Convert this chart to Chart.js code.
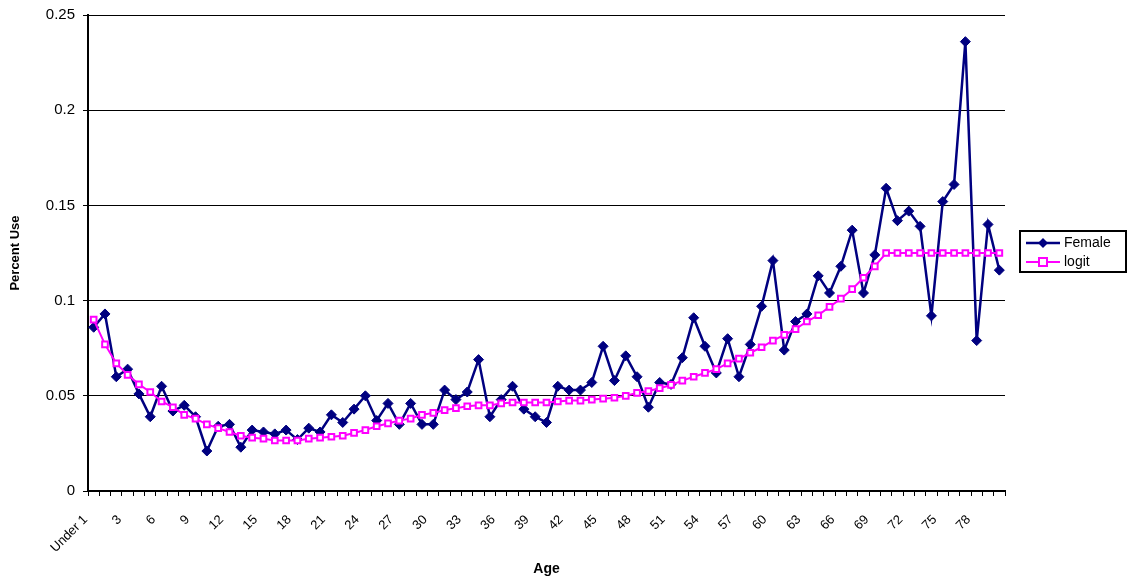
<!DOCTYPE html>
<html>
<head>
<meta charset="utf-8">
<script src="https://cdn.jsdelivr.net/npm/chart.js@4.4.0/dist/chart.umd.min.js"></script>
<style>
  body { margin: 0; background: #fff; }
  canvas { display: block; }
</style>
</head>
<body>
<canvas id="myChart" width="1128" height="584"></canvas>
<script>
// ages: Under 1, 1 .. 80
var ages = ["Under 1"];
for (var a = 1; a <= 80; a++) ages.push(String(a));

var female = [
  0.086, 0.093, 0.060, 0.064, 0.051, 0.039, 0.055, 0.042, 0.045, 0.039,
  0.021, 0.034, 0.035, 0.023, 0.032, 0.031, 0.030, 0.032, 0.027, 0.033,
  0.031, 0.040, 0.036, 0.043, 0.050, 0.037, 0.046, 0.035, 0.046, 0.035,
  0.035, 0.053, 0.048, 0.052, 0.069, 0.039, 0.048, 0.055, 0.043, 0.039,
  0.036, 0.055, 0.053, 0.053, 0.057, 0.076, 0.058, 0.071, 0.060, 0.044,
  0.057, 0.056, 0.070, 0.091, 0.076, 0.062, 0.080, 0.060, 0.077, 0.097,
  0.121, 0.074, 0.089, 0.093, 0.113, 0.104, 0.118, 0.137, 0.104, 0.124,
  0.159, 0.142, 0.147, 0.139, 0.092, 0.152, 0.161, 0.236, 0.079, 0.140,
  0.116
];

var logit = [
  0.090, 0.077, 0.067, 0.061, 0.056, 0.052, 0.047, 0.044, 0.040, 0.038,
  0.035, 0.033, 0.031, 0.029, 0.028, 0.0275, 0.0265, 0.0265, 0.0265, 0.0275,
  0.028, 0.0285, 0.029, 0.0305, 0.032, 0.034, 0.0355, 0.037, 0.038, 0.040,
  0.041, 0.0425, 0.0435, 0.0445, 0.045, 0.045, 0.046, 0.0465, 0.0465, 0.0465,
  0.0465, 0.047, 0.0475, 0.0475, 0.048, 0.0485, 0.049, 0.050, 0.0515, 0.0525,
  0.054, 0.0557, 0.058, 0.060, 0.062, 0.064, 0.067, 0.0695, 0.0726, 0.0755,
  0.079, 0.082, 0.085, 0.089, 0.0923, 0.0967, 0.101, 0.106, 0.112, 0.118,
  0.125, 0.125, 0.125, 0.125, 0.125, 0.125, 0.125, 0.125, 0.125, 0.125,
  0.125
];

var yTicks = [0, 0.05, 0.1, 0.15, 0.2, 0.25];

Chart.defaults.font.family = "'Liberation Sans', Arial, sans-serif";
Chart.defaults.color = "#000";

// legend box drawn by hand (Excel style, with border)
var boxLegend = {
  id: 'boxLegend',
  afterDraw: function(chart) {
    var ctx = chart.ctx;
    ctx.save();
    ctx.strokeStyle = '#000';
    ctx.lineWidth = 2;
    ctx.strokeRect(1020, 231, 106, 41);

    // Female
    ctx.strokeStyle = '#000080';
    ctx.lineWidth = 2.5;
    ctx.beginPath(); ctx.moveTo(1026, 243); ctx.lineTo(1060, 243); ctx.stroke();
    ctx.fillStyle = '#000080';
    ctx.beginPath();
    ctx.moveTo(1043, 238); ctx.lineTo(1048, 243); ctx.lineTo(1043, 248); ctx.lineTo(1038, 243);
    ctx.closePath(); ctx.fill();

    // logit
    ctx.strokeStyle = '#ff00ff';
    ctx.lineWidth = 2;
    ctx.beginPath(); ctx.moveTo(1026, 262); ctx.lineTo(1060, 262); ctx.stroke();
    ctx.fillStyle = '#fff';
    ctx.fillRect(1039, 258, 8, 8);
    ctx.strokeRect(1039, 258, 8, 8);

    ctx.fillStyle = '#000';
    ctx.font = "14px 'Liberation Sans', Arial, sans-serif";
    ctx.textBaseline = 'middle';
    ctx.fillText('Female', 1064, 243);
    ctx.fillText('logit', 1064, 262);
    ctx.restore();
  }
};

var myChart = new Chart(document.getElementById('myChart').getContext('2d'), {
  type: 'line',
  data: {
    labels: ages,
    datasets: [
      {
        label: 'Female',
        data: female,
        borderColor: '#000080',
        backgroundColor: '#000080',
        borderWidth: 2.5,
        pointStyle: 'rectRot',
        pointRadius: 5,
        pointBorderWidth: 1,
        tension: 0,
        order: 2
      },
      {
        label: 'logit',
        data: logit,
        borderColor: '#ff00ff',
        backgroundColor: '#ffffff',
        borderWidth: 2,
        pointStyle: 'rect',
        pointRadius: 4,
        pointBorderWidth: 2,
        tension: 0,
        order: 1
      }
    ]
  },
  options: {
    responsive: false,
    animation: false,
    layout: { padding: { left: 0, right: 123, top: 15, bottom: 0 } },
    plugins: {
      legend: { display: false },
      tooltip: { enabled: false }
    },
    scales: {
      x: {
        offset: true,
        afterFit: function(s) { s.height = 93; },
        border: { color: '#000', width: 2 },
        grid: {
          offset: true,
          drawOnChartArea: false,
          drawTicks: true,
          tickLength: 5,
          color: '#000',
          lineWidth: 1
        },
        ticks: {
          autoSkip: false,
          maxRotation: 45,
          minRotation: 45,
          padding: 16,
          labelOffset: -8,
          font: { size: 13 },
          callback: function(v, i) { return i % 3 === 0 ? ages[i] : ''; }
        },
        title: {
          display: true,
          text: 'Age',
          font: { size: 14, weight: 'bold' },
          padding: { top: 0, bottom: 6 }
        }
      },
      y: {
        min: 0,
        max: 0.25,
        afterFit: function(s) { s.width = 88; s.paddingTop = 0; s.paddingBottom = 0; },
        afterBuildTicks: function(s) { s.ticks = yTicks.map(function(v) { return { value: v }; }); },
        border: { color: '#000', width: 2 },
        grid: { color: '#000', lineWidth: 1, tickLength: 5 },
        ticks: {
          padding: 8,
          font: { size: 15 },
          callback: function(v) { return String(v); }
        },
        title: {
          display: true,
          text: 'Percent Use',
          font: { size: 13, weight: 'bold' },
          padding: { top: 8, bottom: 4 }
        }
      }
    }
  },
  plugins: [boxLegend]
});
</script>
</body>
</html>
